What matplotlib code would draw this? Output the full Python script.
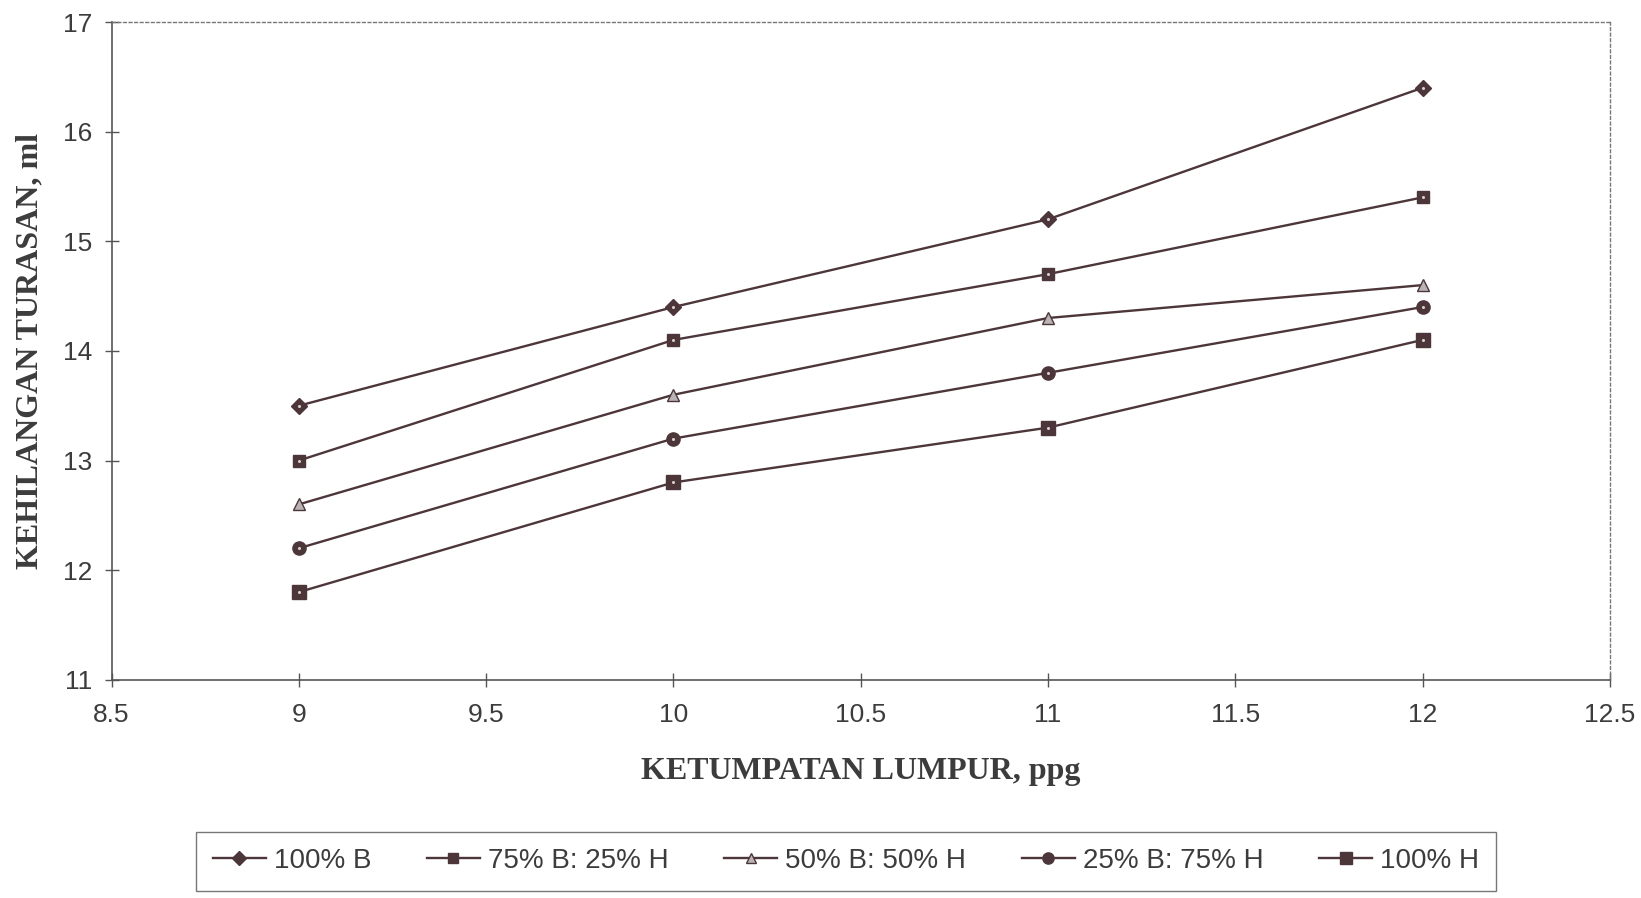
import matplotlib
matplotlib.use("Agg")
import matplotlib.pyplot as plt

# mud density (ppg) and fluid loss (ml)
density = [9, 10, 11, 12]
b100 = [13.5, 14.4, 15.2, 16.4]
b75_h25 = [13.0, 14.1, 14.7, 15.4]
b50_h50 = [12.6, 13.6, 14.3, 14.6]
b25_h75 = [12.2, 13.2, 13.8, 14.4]
h100 = [11.8, 12.8, 13.3, 14.1]

labels = ["100% B", "75% B: 25% H", "50% B: 50% H", "25% B: 75% H", "100% H"]
series = [b100, b75_h25, b50_h50, b25_h75, h100]

LINE = "#4d3639"
TEXT = "#3c3c3c"
styles = [
    dict(marker="D", ms=8.5, mfc=LINE, dot=True),
    dict(marker="s", ms=9, mfc=LINE, dot=True),
    dict(marker="^", ms=9, mfc="#b9b3b5", dot=False),
    dict(marker="o", ms=9.5, mfc=LINE, dot=True),
    dict(marker="s", ms=9.5, mfc=LINE, dot=True),
]

fig = plt.figure(figsize=(16.41, 8.98), dpi=100)
ax = fig.add_axes([0.068, 0.243, 0.913, 0.7325])

handles = []
for vals, lab, st in zip(series, labels, styles):
    h, = ax.plot(density, vals, color=LINE, lw=1.7, marker=st["marker"],
                 ms=st["ms"], mfc=st["mfc"], mec=LINE, mew=1.0, label=lab)
    handles.append(h)
    if st["dot"]:
        # small light centre seen in the printed markers
        ax.plot(density, vals, ls="none", marker="o", ms=2.2, mfc="#d8d0d2",
                mec="none")

ax.set_xlim(8.5, 12.5)
ax.set_ylim(11, 17)
ax.set_xticks([8.5, 9, 9.5, 10, 10.5, 11, 11.5, 12, 12.5])
ax.set_xticklabels(["8.5", "9", "9.5", "10", "10.5", "11", "11.5", "12", "12.5"])
ax.set_yticks([11, 12, 13, 14, 15, 16, 17])

ax.tick_params(direction="inout", length=10, width=1, colors="#555555",
               labelcolor=TEXT, labelsize=19)
ax.tick_params(axis="x", pad=12)
ax.tick_params(axis="y", pad=9)
for lab in ax.get_xticklabels() + ax.get_yticklabels():
    lab.set_fontfamily("Liberation Sans")

for side in ("left", "bottom"):
    ax.spines[side].set_color("#555555")
    ax.spines[side].set_linewidth(1.2)
for side in ("top", "right"):
    ax.spines[side].set_color("#777777")
    ax.spines[side].set_linestyle((0, (2, 2)))
    ax.spines[side].set_linewidth(1.0)

ax.set_xlabel("KETUMPATAN LUMPUR, ppg", fontfamily="Liberation Serif",
              fontweight="bold", fontsize=23, color=TEXT, labelpad=21)
ax.set_ylabel("KEHILANGAN TURASAN, ml", fontfamily="Liberation Serif",
              fontweight="bold", fontsize=23, color=TEXT, labelpad=13)

leg = fig.legend(handles=handles, loc="center", bbox_to_anchor=(0.5156, 0.041),
                 ncol=5, frameon=True, fancybox=False, handlelength=1.9,
                 columnspacing=2.0, handletextpad=0.3, borderpad=0.6,
                 borderaxespad=0.0, markerscale=0.85,
                 prop={"family": "Liberation Sans", "size": 20})
leg.get_frame().set_edgecolor("#555555")
leg.get_frame().set_linewidth(1.0)
for t in leg.get_texts():
    t.set_color(TEXT)

fig.savefig("out.png", dpi=100)
